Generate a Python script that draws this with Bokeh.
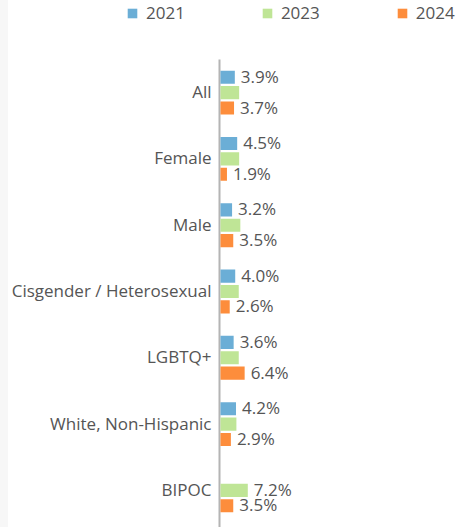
import math
from bokeh.plotting import figure
from bokeh.models import ColumnDataSource, Range1d, Legend, LegendItem
from bokeh.transform import dodge
from bokeh.core.properties import value
from bokeh.embed import file_html
from bokeh.resources import INLINE

categories = ["All", "Female", "Male", "Cisgender / Heterosexual", "LGBTQ+",
              "White, Non-Hispanic", "BIPOC"]
years = ["2021", "2023", "2024"]
v2021 = [3.9, 4.5, 3.2, 4.0, 3.6, 4.2, float("nan")]
v2023 = [5.0, 5.0, 5.3, 4.9, 4.9, 4.3, 7.2]
v2024 = [3.7, 1.9, 3.5, 2.6, 6.4, 2.9, 3.5]
colors = ["#6baed6", "#bfe596", "#fd8d3c"]

def fmt(v):
    return "" if math.isnan(v) else f"{v:.1f}%"

n = len(categories)
ypos = [n - 1 - i for i in range(n)]          # All at top

lab2021 = [fmt(v) for v in v2021]
# 2023 labels only visible where no 2021 label collides
lab2023 = [fmt(b) if math.isnan(a) else "" for a, b in zip(v2021, v2023)]
lab2024 = [fmt(v) for v in v2024]

series = [(v2021, lab2021, 0.232), (v2023, lab2023, 0.0), (v2024, lab2024, -0.232)]

FONT = "Open Sans"
TXT = "#555555"
FS = "17px"

W, H = 459, 527
AXIS_PX, TOP_PX, BOT_PX = 219, 59, 4
PX_PER_UNIT = 3.93
slot = (H - TOP_PX - BOT_PX) / n
ylo = -0.5 - BOT_PX / slot
p = figure(width=W, height=H, output_backend="svg", toolbar_location=None,
           x_range=Range1d(-AXIS_PX / PX_PER_UNIT, (W - AXIS_PX) / PX_PER_UNIT),
           y_range=Range1d(ylo, n - 0.5 + TOP_PX / slot),
           min_border=0,
           styles={"background": "linear-gradient(to right, #f7f7f7 8px, #ffffff 8px)"})
p.axis.visible = False
p.grid.visible = False
p.outline_line_color = None
p.background_fill_alpha = 0
p.border_fill_alpha = 0

# category axis line and labels
p.segment(x0=[0], y0=[ylo], x1=[0], y1=[n - 0.5], line_color="#b4b4b4", line_width=2)
p.text(x=[0] * n, y=ypos, text=categories, x_offset=-8, y_offset=-1,
       text_align="right", text_baseline="middle", text_font=value(FONT),
       text_font_size=FS, text_color=TXT)

items = []
for (vals, labs, off), yr, col in zip(series, years, colors):
    src = ColumnDataSource(dict(y=ypos, val=vals, lab=labs))
    r = p.hbar(y=dodge("y", off), right="val", left=0.25,
               height=0.198, source=src, fill_color=col, line_color=None)
    p.text(x="val", y=dodge("y", off), text="lab", source=src,
           x_offset=6, y_offset=-1, text_baseline="middle", text_align="left",
           text_font=value(FONT), text_font_size=FS, text_color=TXT)
    items.append(LegendItem(label=yr, renderers=[r]))

legend = Legend(items=items, orientation="horizontal", location=(126, H - 24),
                glyph_width=12, glyph_height=12, label_standoff=8,
                label_text_font=FONT, label_text_font_size=FS,
                label_text_color=TXT, spacing=76, padding=0, margin=0,
                border_line_color=None, background_fill_alpha=0,
                label_height=20)
p.add_layout(legend, "center")

open("out.html", "w").write(file_html(p, INLINE))
